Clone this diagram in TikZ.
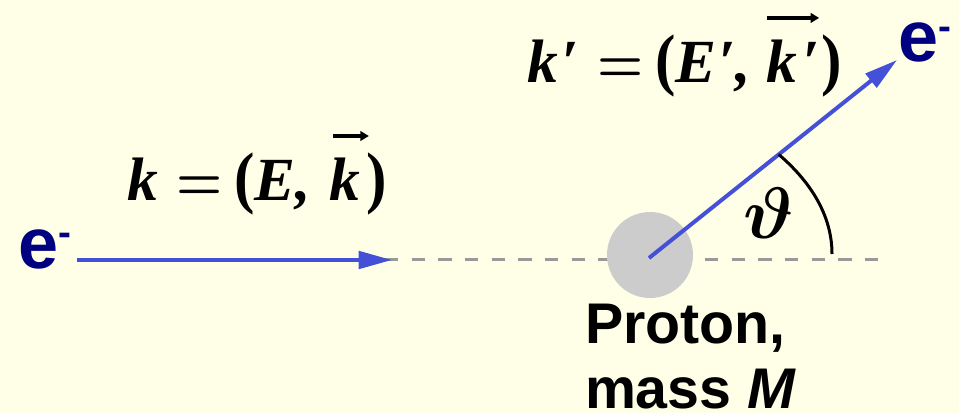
\RequirePackage{fix-cm}
\documentclass[tikz,border=0pt]{standalone}
\usepackage{fontspec}
\setmainfont{Liberation Serif}
\setsansfont{Liberation Sans}
\usetikzlibrary{arrows.meta,calc}
\definecolor{bg}{RGB}{255,255,232}
\definecolor{beam}{RGB}{68,80,216}
\definecolor{navy}{RGB}{0,0,128}
\definecolor{axis}{RGB}{153,153,153}
\definecolor{proton}{RGB}{204,204,204}
\tikzset{
  plain/.style={inner sep=0pt, outer sep=0pt},
  beamline/.style={draw=beam, line width=3pt, -{Triangle[length=25pt,width=13pt]}},
  axisline/.style={draw=axis, line width=2.25pt, dash pattern=on 10pt off 10pt},
  formula/.style={plain, anchor=base west, scale=2, font=\fontsize{23}{28}\selectfont\bfseries\boldmath},
  elabel/.style={plain, anchor=base west, text=navy, font=\fontsize{54}{60}\selectfont\sffamily\bfseries},
  ptext/.style={plain, anchor=base west, font=\fontsize{43}{50}\selectfont\sffamily\bfseries},
  vecarrow/.style={draw=black, line width=1.5pt, -{Triangle[length=3.2pt,width=3.6pt]}},
}
\newcommand{\eminus}{e{\fontsize{29}{30}\selectfont\raisebox{17pt}{-}}}
% #1 letters, #2 arrow length, #3 raise, #4 shift
\newcommand{\vk}[4]{\rlap{\hspace{#4}\raisebox{#3}{\tikz[x=1pt,y=1pt,baseline=0pt]{\path[vecarrow] (0,0) -- (#2,0);}}}{\bfseries\itshape #1}}
\newcommand{\lpar}{{\upshape\scalebox{1}[1.12]{(}}}
\newcommand{\rpar}{{\upshape\scalebox{1}[1.12]{)}}}
\newcommand{\eq}{\scalebox{0.86}[1]{$=$}}
\begin{document}
\begin{tikzpicture}[x=0.75pt,y=-0.75pt]
\fill[bg] (0,0) rectangle (959,413);
\useasboundingbox (0,0) rectangle (959,413);

\coordinate (ax0) at (385,259);
\coordinate (ax1) at (880,259);
\coordinate (in0) at (77,260);
\coordinate (in1) at (392,260);
\coordinate (c) at (649,258);
\coordinate (out1) at (897,60);

\draw[axisline] (ax0) -- (ax1);
\node[plain, circle, fill=proton, minimum size=86*0.75pt] (p) at (650,255) {};
\draw[beamline] (c) -- (out1);
\draw[beamline] (in0) -- (in1);

\coordinate (arcs) at ($(c)!0.523!(out1)$);
\coordinate (arce) at (832,254);
\draw[line width=2.25pt] (arcs) .. controls ($(arcs)+(28,24)$) and (832,212) .. (arce);

\node[plain, scale=2.2, font=\fontsize{24.88}{30}\selectfont\boldmath] (th) at (769,213) {$\vartheta$};

\node[formula] (k) at (127,200) {\itshape k\hspace{0.3em}\eq\hspace{0.2em}\lpar\itshape E,\hspace{0.3em}\vk{k}{13.5}{24pt}{0.5pt}\hspace{0.1em}\rpar};
\node[formula] (kp) at (527,83) {\itshape k\kern0.06em′\hspace{0.3em}\eq\hspace{0.2em}\lpar\itshape E\kern0.03em′,\hspace{0.25em}\vk{k\kern0.08em′}{19.5}{24.4pt}{-0.5pt}\hspace{0.03em}\rpar};

\node[elabel] (ein) at (18,268) {\eminus};
\node[elabel] (eout) at (898,62) {\eminus};

\node[ptext] (p1) at (585,343) {Proton,};
\node[ptext] (p2) at (585,408) {mass \textit{M}};
\end{tikzpicture}
\end{document}
